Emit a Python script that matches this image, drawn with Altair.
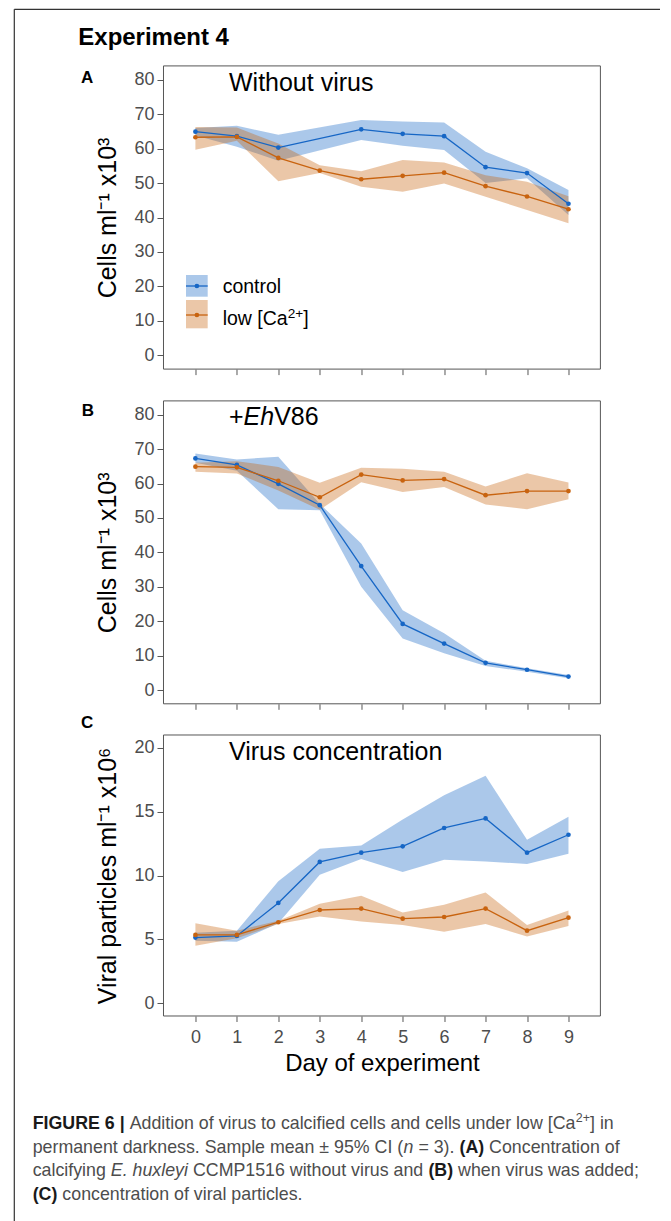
import altair as alt
import pandas as pd

# ---------------- data ----------------
DAYS = list(range(10))
GROUPS = ["control", "low"]

# Panel A: without virus (control has no day-3 sample)
A_CTRL_MEAN = [64.9, 63.6, 60.3, None, 65.6, 64.3, 63.6, 54.6, 52.9, 44.0]
A_CTRL_LO = [63.8, 60.5, 56.5, None, 62.5, 60.8, 59.6, 50.0, 51.4, 40.7]
A_CTRL_HI = [66.0, 66.6, 64.0, None, 68.3, 67.9, 67.6, 59.1, 54.3, 48.0]
A_LOW_MEAN = [63.3, 63.4, 57.3, 53.6, 51.1, 52.1, 53.0, 49.1, 46.1, 42.4]
A_LOW_LO = [59.7, 62.3, 50.5, 52.9, 48.9, 47.5, 49.9, 46.0, 42.2, 38.3]
A_LOW_HI = [66.3, 66.1, 61.5, 55.2, 53.4, 56.7, 56.0, 52.3, 50.4, 46.2]

# Panel B: +EhV86
B_CTRL_MEAN = [67.3, 65.4, 59.9, 53.7, 36.0, 19.2, 13.5, 7.9, 5.9, 3.9]
B_CTRL_LO = [66.0, 63.7, 52.5, 52.2, 30.0, 15.0, 10.7, 7.0, 5.3, 3.4]
B_CTRL_HI = [68.7, 67.0, 67.8, 54.1, 42.6, 23.2, 16.5, 8.5, 6.3, 4.4]
B_LOW_MEAN = [64.9, 64.7, 60.8, 56.0, 62.6, 60.9, 61.3, 56.6, 57.8, 57.8]
B_LOW_LO = [63.4, 62.9, 58.0, 52.4, 60.4, 57.5, 59.0, 53.9, 52.5, 55.4]
B_LOW_HI = [66.0, 66.5, 64.8, 60.2, 64.6, 64.3, 63.4, 59.1, 63.0, 60.3]

# Panel C: virus concentration
C_CTRL_MEAN = [5.14, 5.27, 7.85, 11.06, 11.79, 12.28, 13.72, 14.47, 11.79, 13.19]
C_CTRL_LO = [4.89, 4.81, 6.26, 10.06, 11.30, 10.28, 11.24, 11.10, 10.90, 11.70]
C_CTRL_HI = [5.52, 5.68, 9.54, 12.09, 12.35, 14.39, 16.28, 17.80, 12.80, 14.60]
C_LOW_MEAN = [5.35, 5.35, 6.34, 7.30, 7.41, 6.62, 6.75, 7.41, 5.68, 6.70]
C_LOW_LO = [4.50, 5.08, 6.20, 6.78, 6.39, 6.13, 5.60, 6.21, 5.22, 6.05]
C_LOW_HI = [6.26, 5.68, 6.46, 7.78, 8.41, 7.10, 7.70, 8.66, 6.13, 7.25]

CELL_TICKS = [0, 10, 20, 30, 40, 50, 60, 70, 80]
VIRUS_TICKS = [0, 5, 10, 15, 20]

# ---------------- styles ----------------
FONT = "Liberation Sans"
BLUE = "#1666C5"
ORANGE = "#C8630F"
BAND_OPACITY = 0.36
GREY_TXT = "#4d4d4d"
FRAME = "#555555"

X_DOMAIN = [-0.77, 9.77]
W = 436.9
H = 1008
OX = 163.5  # page x of the plot-area left edge
OY = 8.0


def cx(px):
    return px - OX


def cy(py):
    return py - OY


cscale = alt.Scale(domain=GROUPS, range=[BLUE, ORANGE])


def panel_df(cm, cl, ch, lm, ll, lh):
    rows = []
    for g, (m, lo, hi) in zip(GROUPS, [(cm, cl, ch), (lm, ll, lh)]):
        for d, a, b, c in zip(DAYS, m, lo, hi):
            if a is None:
                continue
            rows.append({"day": d, "group": g, "mean": a, "lo": b, "hi": c})
    return pd.DataFrame(rows)


def panel(df, ydom, yrange, yticks, ytitle, xaxis):
    ys = alt.Scale(domain=ydom, range=yrange, nice=False, zero=False)
    xs = alt.Scale(domain=X_DOMAIN, nice=False, zero=False)
    base = alt.Chart(df)
    yaxis = alt.Axis(orient="left", values=yticks, title=ytitle, format="d",
                     tickSize=6.5, labelPadding=3, labelFontSize=18,
                     titleFontSize=25, titlePadding=13)
    band = base.mark_area(opacity=BAND_OPACITY).encode(
        x=alt.X("day:Q", scale=xs, axis=xaxis),
        y=alt.Y("lo:Q", scale=ys, axis=yaxis),
        y2="hi:Q",
        color=alt.Color("group:N", scale=cscale, legend=None),
    )
    line = base.mark_line(strokeWidth=1.3).encode(
        x=alt.X("day:Q", scale=xs, axis=None),
        y=alt.Y("mean:Q", scale=ys, axis=None),
        color=alt.Color("group:N", scale=cscale, legend=None),
    )
    pts = base.mark_circle(size=22, opacity=1).encode(
        x=alt.X("day:Q", scale=xs, axis=None),
        y=alt.Y("mean:Q", scale=ys, axis=None),
        color=alt.Color("group:N", scale=cscale, legend=None),
    )
    frame = alt.Chart(pd.DataFrame({"x0": [X_DOMAIN[0]], "x1": [X_DOMAIN[1]],
                                    "y0": [ydom[0]], "y1": [ydom[1]]})).mark_rect(
        fill="transparent", stroke=FRAME, strokeWidth=1).encode(
        x=alt.X("x0:Q", scale=xs, axis=None), x2="x1:Q",
        y=alt.Y("y0:Q", scale=ys, axis=None), y2="y1:Q")
    return [band, line, pts, frame]


def txt(s, x, y, size, weight="normal", style="normal", color="black"):
    return alt.Chart(pd.DataFrame({"t": [s]})).mark_text(
        x=x, y=y, align="left", baseline="alphabetic", fontSize=size,
        fontWeight=weight, fontStyle=style, color=color, font=FONT,
    ).encode(text="t:N")


# Arial / Liberation Sans advance widths (per 1000 em)
REG = {" ": 278, ".": 278, ",": 278, ";": 278, ":": 278, "(": 333, ")": 333,
       "[": 278, "]": 278, "|": 260, "±": 549, "%": 889, "=": 584, "+": 584,
       "-": 333}
for ch in "0123456789":
    REG[ch] = 556
REG.update(dict(zip("abcdefghijklmnopqrstuvwxyz",
                    [556, 556, 500, 556, 556, 278, 556, 556, 222, 222, 500, 222, 833,
                     556, 556, 556, 556, 333, 500, 278, 556, 500, 722, 500, 500, 500])))
REG.update(dict(zip("ABCDEFGHIJKLMNOPQRSTUVWXYZ",
                    [667, 667, 722, 722, 667, 611, 778, 722, 278, 500, 667, 556, 833,
                     722, 778, 667, 778, 722, 667, 611, 722, 667, 944, 667, 667, 611])))
BOLD = dict(REG)
BOLD.update({"A": 722, "B": 722, "C": 722, "R": 722, "U": 722, "|": 280,
             "(": 333, ")": 333})


def tw(s, size, bold=False):
    t = BOLD if bold else REG
    return sum(t.get(c, 556) for c in s) * size / 1000.0


def segments(parts, x0, y, size, reg_color=GREY_TXT, bold_color="#1a1a1a"):
    out = []
    x = x0
    for text, kind in parts:
        fs = size * 0.7 if kind == "sup" else size
        dy = -size * 0.38 if kind == "sup" else 0
        bold = kind == "bold"
        lead = len(text) - len(text.lstrip(" "))
        x += tw(" " * lead, fs, bold)
        body = text.strip(" ")
        if body:
            out.append(txt(body, x, y + dy, fs,
                           weight="bold" if bold else "normal",
                           style="italic" if kind == "italic" else "normal",
                           color=bold_color if bold else reg_color))
        x += tw(text.lstrip(" "), fs, bold)
    return out


# ---------------- panels ----------------
dfA = panel_df(A_CTRL_MEAN, A_CTRL_LO, A_CTRL_HI, A_LOW_MEAN, A_LOW_LO, A_LOW_HI)
dfB = panel_df(B_CTRL_MEAN, B_CTRL_LO, B_CTRL_HI, B_LOW_MEAN, B_LOW_LO, B_LOW_HI)
dfC = panel_df(C_CTRL_MEAN, C_CTRL_LO, C_CTRL_HI, C_LOW_MEAN, C_LOW_LO, C_LOW_HI)

A_RANGE = [cy(369.1), cy(65.9)]
B_RANGE = [cy(703.8), cy(400.9)]
C_RANGE = [cy(1016.0), cy(735.0)]

xaxis_A = alt.Axis(orient="bottom", values=DAYS, labels=False, title="",
                   tickSize=5.5, offset=A_RANGE[0] - H)
xaxis_B = alt.Axis(orient="bottom", values=DAYS, labels=False, title="",
                   tickSize=5.5, offset=B_RANGE[0] - H)
xaxis_C = alt.Axis(orient="bottom", values=DAYS, format="d", title="Day of experiment",
                   tickSize=5.5, labelPadding=7, labelFontSize=18,
                   titleFontSize=24, titlePadding=5)

layers = []
layers += panel(dfA, [-4, 84], A_RANGE, CELL_TICKS, "Cells ml⁻¹ x10³", xaxis_A)
layers += panel(dfB, [-4, 84], B_RANGE, CELL_TICKS, "Cells ml⁻¹ x10³", xaxis_B)
layers += panel(dfC, [-1, 21], C_RANGE, VIRUS_TICKS, "Viral particles ml⁻¹ x10⁶", xaxis_C)

# ---------------- legend (panel A) ----------------
LEGEND = [("control", BLUE, 275.0, 296.7, 286.0, 293.3),
          ("low", ORANGE, 300.0, 328.3, 315.0, 325.0)]
for name, col, y0, y1, ym, yb in LEGEND:
    d = pd.DataFrame({"g": [name]})
    layers.append(alt.Chart(d).mark_rect(opacity=BAND_OPACITY, color=col).encode(
        x=alt.value(cx(186)), x2=alt.value(cx(207.7)),
        y=alt.value(cy(y0)), y2=alt.value(cy(y1))))
    layers.append(alt.Chart(d).mark_rule(color=col, strokeWidth=1.3).encode(
        x=alt.value(cx(186)), x2=alt.value(cx(207.7)), y=alt.value(cy(ym))))
    layers.append(alt.Chart(d).mark_circle(size=22, opacity=1, color=col).encode(
        x=alt.value(cx(196.9)), y=alt.value(cy(ym))))
layers += segments([("control", "reg")], cx(222.7), cy(293.3), 19.5, reg_color="black")
layers += segments([("low [Ca", "reg"), ("2+", "sup"), ("]", "reg")],
                   cx(222.7), cy(325.0), 19.5, reg_color="black")

# ---------------- titles & labels ----------------
layers.append(txt("Experiment 4", cx(78.3), cy(45.0), 24, weight="bold"))
layers.append(txt("A", cx(81.0), cy(82.7), 17, weight="bold"))
layers.append(txt("B", cx(81.7), cy(416.0), 17, weight="bold"))
layers.append(txt("C", cx(81.0), cy(728.3), 17, weight="bold"))
layers.append(txt("Without virus", cx(229.0), cy(90.7), 25))
layers += segments([("+", "reg"), ("Eh", "italic"), ("V86", "reg")],
                   cx(229.0), cy(425.0), 25, reg_color="black")
layers.append(txt("Virus concentration", cx(229.0), cy(760.0), 25))

# ---------------- caption ----------------
CAPTION = [
    [("FIGURE 6 |", "bold"), (" Addition of virus to calcified cells and cells under low [Ca", "reg"),
     ("2+", "sup"), ("] in", "reg")],
    [("permanent darkness. Sample mean ± 95% CI (", "reg"), ("n", "italic"), (" = 3). ", "reg"),
     ("(A)", "bold"), (" Concentration of", "reg")],
    [("calcifying ", "reg"), ("E. huxleyi", "italic"), (" CCMP1516 without virus and ", "reg"),
     ("(B)", "bold"), (" when virus was added;", "reg")],
    [("(C)", "bold"), (" concentration of viral particles.", "reg")],
]
CAP_BASELINES = [1129.0, 1152.7, 1176.4, 1200.0]
for parts, yb in zip(CAPTION, CAP_BASELINES):
    layers += segments(parts, cx(32.7), cy(yb), 17.8)

# ---------------- figure border ----------------
bd = pd.DataFrame({"b": [0]})
layers.append(alt.Chart(bd).mark_rule(color="#333", strokeWidth=1.2).encode(
    x=alt.value(cx(14.3)), y=alt.value(cy(9.3)), y2=alt.value(cy(1221))))
layers.append(alt.Chart(bd).mark_rule(color="#333", strokeWidth=1.2).encode(
    x=alt.value(cx(14.3)), x2=alt.value(cx(671)), y=alt.value(cy(9.3))))

chart = alt.layer(*layers).resolve_scale(
    x="independent", y="independent"
).properties(
    width=W, height=H,
    padding={"left": OX - OY, "top": 0, "right": 60, "bottom": 205},
    autosize=alt.AutoSizeParams(type="none"),
).configure_axis(
    labelFont=FONT, titleFont=FONT, grid=False, domain=False,
    tickColor="#555", labelColor=GREY_TXT, titleColor="black",
    titleFontWeight="normal", tickWidth=1,
).configure_view(stroke="transparent")

chart.save("out.html", embed_options={"renderer": "svg", "actions": False})
